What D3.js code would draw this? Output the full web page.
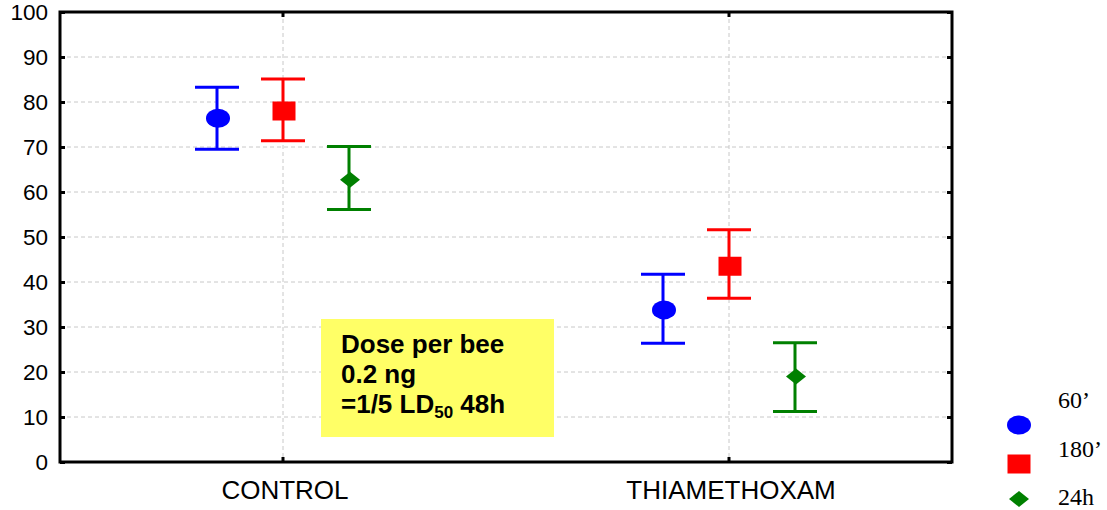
<!DOCTYPE html>
<html>
<head>
<meta charset="utf-8">
<script src="https://cdn.jsdelivr.net/npm/d3@7"></script>
<style>
  body { margin: 0; background: #fff; }
  text { font-family: "Liberation Sans", Arial, sans-serif; }
</style>
</head>
<body>
<div id="chart"></div>
<script>
// datos
var categories = ['CONTROL', 'THIAMETHOXAM']
var series = ['60’', '180’', '24h']
var seriesColors = ['#0000ff', '#ff0000', '#008000']
var seriesShapes = ['circle', 'square', 'diamond']
var means = [
  [76.4, 78.0, 62.7],
  [33.8, 43.5, 19.0],
]
var upper = [
  [83.3, 85.1, 70.1],
  [41.7, 51.6, 26.5],
]
var lower = [
  [69.5, 71.4, 56.1],
  [26.4, 36.4, 11.2],
]
var yTicks = [0, 10, 20, 30, 40, 50, 60, 70, 80, 90, 100]
var noteLines = ['Dose per bee', '0.2 ng', '=1/5 LD']

var width = 1107
var height = 510
var plotLeft = 60, plotRight = 952, plotTop = 12, plotBottom = 462

var svg = d3
  .select('#chart')
  .append('svg')
  .attr('width', width)
  .attr('height', height)

var xscale = d3.scaleBand().domain(categories).range([plotLeft, plotRight]).padding(0)
var offset = d3.scalePoint().domain(series).range([-66, 66])
var yscale = d3.scaleLinear().domain([0, 100]).range([plotBottom, plotTop])

function cx(c) {
  return xscale(c) + xscale.bandwidth() / 2
}

// rejilla punteada
svg
  .append('g')
  .selectAll('line')
  .data(yTicks.filter((d) => d > 0 && d < 100))
  .enter()
  .append('line')
  .attr('x1', plotLeft)
  .attr('x2', plotRight)
  .attr('y1', (d) => yscale(d))
  .attr('y2', (d) => yscale(d))
  .attr('stroke', '#c8c8c8')
  .attr('stroke-dasharray', '4,3')

svg
  .append('g')
  .selectAll('line')
  .data(categories)
  .enter()
  .append('line')
  .attr('x1', (d) => cx(d))
  .attr('x2', (d) => cx(d))
  .attr('y1', plotTop)
  .attr('y2', plotBottom)
  .attr('stroke', '#c8c8c8')
  .attr('stroke-dasharray', '4,3')

// cuadro amarillo con la dosis
var box = svg.append('g')
box
  .append('rect')
  .attr('x', 321)
  .attr('y', 319)
  .attr('width', 233)
  .attr('height', 118)
  .attr('fill', '#ffff66')

var noteText = box
  .selectAll('text')
  .data(noteLines)
  .enter()
  .append('text')
  .attr('x', 341)
  .attr('y', (d, i) => 353 + i * 30)
  .style('font-size', '26px')
  .style('font-weight', 'bold')
  .text((d) => d)

d3.select(noteText.nodes()[2])
  .append('tspan')
  .attr('dy', 5)
  .style('font-size', '17px')
  .text('50')
d3.select(noteText.nodes()[2])
  .append('tspan')
  .attr('dy', -5)
  .text(' 48h')

// barras de error y marcadores
var points = []
categories.forEach((c, i) => {
  series.forEach((s, j) => {
    points.push({
      cat: c,
      s: j,
      mean: means[i][j],
      hi: upper[i][j],
      lo: lower[i][j],
    })
  })
})

var g = svg.append('g')
var px = (d) => cx(d.cat) + offset(series[d.s])

g.selectAll('.err')
  .data(points)
  .enter()
  .append('path')
  .attr('d', (d) => {
    var x = px(d)
    return (
      'M' + (x - 22) + ',' + yscale(d.hi) + 'H' + (x + 22) +
      'M' + x + ',' + yscale(d.hi) + 'V' + yscale(d.lo) +
      'M' + (x - 22) + ',' + yscale(d.lo) + 'H' + (x + 22)
    )
  })
  .attr('stroke', (d) => seriesColors[d.s])
  .attr('stroke-width', 3)
  .attr('fill', 'none')

function drawMarker(sel, shape, color, x, y) {
  if (shape === 'circle') {
    sel.append('ellipse').attr('cx', x).attr('cy', y).attr('rx', 12).attr('ry', 9.5).attr('fill', color)
  } else if (shape === 'square') {
    sel.append('rect').attr('x', x - 11.5).attr('y', y - 9.5).attr('width', 23).attr('height', 19).attr('fill', color)
  } else {
    sel
      .append('path')
      .attr('d', 'M' + x + ',' + (y - 8) + 'L' + (x + 10) + ',' + y + 'L' + x + ',' + (y + 8) + 'L' + (x - 10) + ',' + y + 'Z')
      .attr('fill', color)
  }
}

points.forEach((d) => {
  drawMarker(g, seriesShapes[d.s], seriesColors[d.s], px(d) + 1, yscale(d.mean))
})

// marco del grafico
svg
  .append('rect')
  .attr('x', plotLeft)
  .attr('y', plotTop)
  .attr('width', plotRight - plotLeft)
  .attr('height', plotBottom - plotTop)
  .attr('fill', 'none')
  .attr('stroke', '#000')
  .attr('stroke-width', 3)

// ejes
var yaxis = d3.axisLeft(yscale).tickValues(yTicks).tickSize(-5).tickPadding(12)
var yAxisG = svg.append('g').attr('transform', 'translate(' + plotLeft + ',0)').call(yaxis)
var yaxisR = d3.axisRight(yscale).tickValues(yTicks).tickSize(-5).tickFormat('')
var yAxisR = svg.append('g').attr('transform', 'translate(' + plotRight + ',0)').call(yaxisR)

var xaxis = d3.axisBottom(xscale).tickSize(-5).tickPadding(19)
var xAxisG = svg.append('g').attr('transform', 'translate(0,' + plotBottom + ')').call(xaxis)
var xaxisT = d3.axisTop(xscale).tickSize(-5).tickFormat('')
var xAxisT = svg.append('g').attr('transform', 'translate(0,' + plotTop + ')').call(xaxisT)

;[yAxisG, yAxisR, xAxisG, xAxisT].forEach((a) => {
  a.select('.domain').remove()
  a.selectAll('.tick line').attr('stroke', '#000').attr('stroke-width', 3)
})

yAxisG
  .selectAll('.tick text')
  .style('font-size', '22.5px')
  .attr('fill', '#000')
  .style('font-family', '"Liberation Sans", Arial, sans-serif')

xAxisG
  .selectAll('.tick text')
  .style('font-size', '26px')
  .attr('fill', '#000')
  .style('font-family', '"Liberation Sans", Arial, sans-serif')
  .attr('dx', 2)

// leyenda
var legend = svg.append('g')
var legendMarkerY = [425, 464, 499]
var legendTextY = [408, 457, 505]
series.forEach((s, i) => {
  drawMarker(legend, seriesShapes[i], seriesColors[i], 1019, legendMarkerY[i])
  legend
    .append('text')
    .attr('x', 1058)
    .attr('y', legendTextY[i])
    .style('font-family', '"Liberation Serif", "Times New Roman", serif')
    .style('font-size', '24px')
    .text(s)
})
</script>
</body>
</html>
